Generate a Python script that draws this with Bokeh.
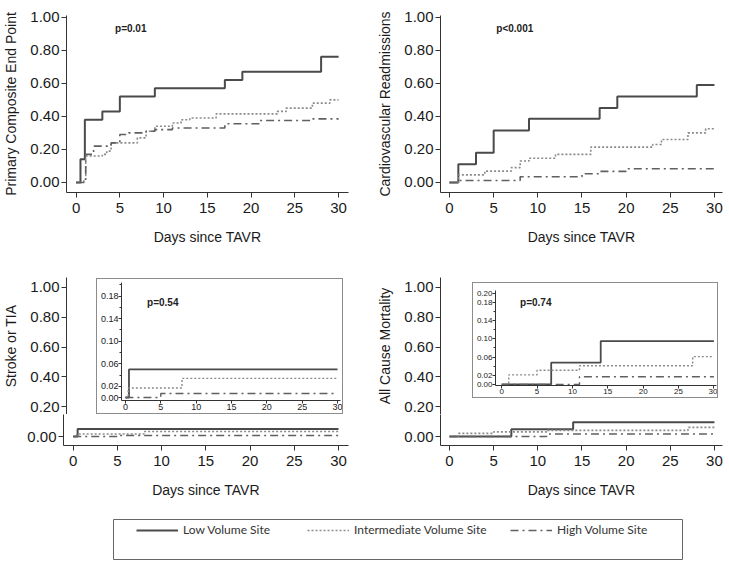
from bokeh.plotting import figure
from bokeh.layouts import row, column
from bokeh.models import (Range1d, FixedTicker, NumeralTickFormatter, Label,
                          Legend, LegendItem, Spacer)
from bokeh.embed import file_html
from bokeh.resources import INLINE

FONT = "Liberation Sans"

# ---------------- data ----------------
day_ticks = [0, 5, 10, 15, 20, 25, 30]
main_y_ticks = [0.0, 0.2, 0.4, 0.6, 0.8, 1.0]
inset3_y_ticks = [0.0, 0.02, 0.06, 0.10, 0.14, 0.18]
inset3_y_minor = [0.04, 0.08, 0.12, 0.16, 0.20]
inset4_y_ticks = [0.0, 0.02, 0.06, 0.10, 0.14, 0.18, 0.20]
inset4_y_minor = [0.04, 0.08, 0.12, 0.16]

series_labels = ["Low Volume Site", "Intermediate Volume Site", "High Volume Site"]

# Primary composite end point
comp_low_t = [0, 0.5, 1, 3, 5, 9, 17, 19, 28, 30]
comp_low_v = [0, 0.14, 0.38, 0.43, 0.52, 0.57, 0.62, 0.67, 0.76, 0.76]
comp_int_t = [0, 0.9, 1.1, 3, 3.5, 4, 7, 8, 9, 11, 12, 13, 16, 23, 24, 27, 29, 30]
comp_int_v = [0, 0.02, 0.16, 0.17, 0.19, 0.24, 0.27, 0.31, 0.34, 0.36, 0.38, 0.39, 0.415, 0.43, 0.45, 0.48, 0.50, 0.50]
comp_high_t = [0, 0.9, 1.1, 2, 4, 5, 6, 8, 9, 11, 17, 21, 27, 30]
comp_high_v = [0, 0.02, 0.17, 0.22, 0.24, 0.29, 0.30, 0.31, 0.32, 0.33, 0.355, 0.375, 0.385, 0.385]

# Cardiovascular readmissions
cv_low_t = [0, 1, 3, 5, 9, 17, 19, 28, 30]
cv_low_v = [0, 0.11, 0.18, 0.315, 0.385, 0.45, 0.52, 0.59, 0.59]
cv_int_t = [0, 1, 4, 7, 8, 9, 12, 16, 23, 24, 27, 29, 30]
cv_int_v = [0, 0.046, 0.069, 0.09, 0.13, 0.147, 0.17, 0.214, 0.23, 0.26, 0.30, 0.325, 0.325]
cv_high_t = [0, 1, 8, 15, 17, 20, 30]
cv_high_v = [0, 0.012, 0.035, 0.053, 0.067, 0.083, 0.083]

# Stroke or TIA
st_low_t = [0, 0.5, 30]
st_low_v = [0, 0.05, 0.05]
st_int_t = [0, 0.4, 8, 30]
st_int_v = [0, 0.017, 0.034, 0.034]
st_high_t = [0, 5, 30]
st_high_v = [0, 0.007, 0.007]

# All cause mortality
mo_low_t = [0, 7, 14, 30]
mo_low_v = [0, 0.048, 0.095, 0.095]
mo_int_t = [0, 1, 5, 11, 27, 30]
mo_int_v = [0, 0.021, 0.031, 0.041, 0.061, 0.061]
mo_high_t = [0, 11, 30]
mo_high_v = [0, 0.017, 0.017]

p_values = ["p=0.01", "p<0.001", "p=0.54", "p=0.74"]

# ---------------- styles ----------------
SERIES_STYLE = [
    dict(line_color="#4a4a4a", line_width=2.0, line_dash="solid"),
    dict(line_color="#8a8a8a", line_width=1.6, line_dash="2 2"),
    dict(line_color="#606060", line_width=1.6, line_dash="8 4 2 4"),
]
BOX_COLOR = "#8c8c8c"


def base_fig(w, h, xr, yr, mbl, mbr, mbt, mbb, **kw):
    p = figure(width=w, height=h, output_backend="svg", toolbar_location=None,
               x_range=Range1d(*xr), y_range=Range1d(*yr),
               min_border_left=mbl, min_border_right=mbr,
               min_border_top=mbt, min_border_bottom=mbb,
               background_fill_color="white", border_fill_color="white",
               outline_line_color=None, **kw)
    p.grid.visible = False
    return p


def style_axes(p, font_size, tick_out, minor_out, standoff):
    for ax in p.axis:
        ax.axis_line_color = "#333333"
        ax.axis_line_width = 1
        ax.major_tick_line_color = "#333333"
        ax.minor_tick_line_color = "#333333"
        ax.major_tick_out = tick_out
        ax.major_tick_in = 0
        ax.minor_tick_out = minor_out
        ax.minor_tick_in = 0
        ax.major_label_text_font = FONT
        ax.major_label_text_font_size = font_size
        ax.major_label_text_color = "#1a1a1a"
        ax.major_label_standoff = standoff
        ax.axis_label_text_font = FONT
        ax.axis_label_text_font_size = "14px"
        ax.axis_label_text_font_style = "normal"
        ax.axis_label_text_color = "#1a1a1a"


def add_curves(p, curves, scale=1.0):
    for (t, v), st in zip(curves, SERIES_STYLE):
        p.step(t, v, mode="after", line_color=st["line_color"],
               line_width=st["line_width"] * scale, line_dash=st["line_dash"])


def main_panel(w, h, xr, yr, mbl, mbr, mbt, mbb, ylabel, curves, xaxis=True):
    kw = {} if xaxis else {"x_axis_location": None}
    p = base_fig(w, h, xr, yr, mbl, mbr, mbt, mbb, **kw)
    if xaxis:
        p.xaxis.ticker = FixedTicker(ticks=day_ticks, minor_ticks=[])
        p.xaxis.axis_label = "Days since TAVR"
    p.yaxis.ticker = FixedTicker(ticks=main_y_ticks, minor_ticks=[])
    p.yaxis.formatter = NumeralTickFormatter(format="0.00")
    if ylabel:
        p.yaxis.axis_label = ylabel
    style_axes(p, "15px", 5, 0, 2)
    if xaxis:
        p.xaxis.major_label_standoff = 5
        p.xaxis.axis_label_standoff = 13
    p.yaxis.axis_label_standoff = 8
    if curves:
        add_curves(p, curves)
    return p


def p_label(p, x, y, text):
    p.add_layout(Label(x=x, y=y, text=text, text_font=FONT, text_font_size="10px",
                       text_font_style="bold", text_baseline="middle",
                       text_color="#222222"))


XR_L = (-1.097, 31.13)
XR_R = (-1.019, 30.91)
YR_T = (-0.0605, 1.0103)
YR_B_UP = (0.1477, 1.0671)
YR_B_LOW = (-0.0604, 0.1477)

comp_curves = [(comp_low_t, comp_low_v), (comp_int_t, comp_int_v), (comp_high_t, comp_high_v)]
cv_curves = [(cv_low_t, cv_low_v), (cv_int_t, cv_int_v), (cv_high_t, cv_high_v)]
st_curves = [(st_low_t, st_low_v), (st_int_t, st_int_v), (st_high_t, st_high_v)]
mo_curves = [(mo_low_t, mo_low_v), (mo_int_t, mo_int_v), (mo_high_t, mo_high_v)]

# ---- top row ----
tl = main_panel(360, 255, XR_L, YR_T, 63, 12, 15, 63, "Primary Composite End Point", comp_curves)
p_label(tl, 4.45, 0.93, p_values[0])
tr = main_panel(369, 255, XR_R, YR_T, 80, 7, 15, 63, "Cardiovascular Readmissions", cv_curves)
p_label(tr, 5.3, 0.93, p_values[1])

# ---- bottom panels: upper part (y axis only) + lower part (data + x axis) ----
bl_up = main_panel(96, 159, (0, 1), YR_B_UP, 63, 0, 22, 0, "Stroke or TIA", None, xaxis=False)
bl_low = main_panel(360, 91, XR_L, YR_B_LOW, 63, 12, 0, 60, None, st_curves)
br_up = main_panel(112, 159, (0, 1), YR_B_UP, 80, 0, 22, 0, "All Cause Mortality", None, xaxis=False)
br_low = main_panel(369, 91, XR_R, YR_B_LOW, 80, 7, 0, 60, None, mo_curves)


def inset(w, h, xr, yr, mbl, mbr, mbt, mbb, yt, ym, curves, fs):
    p = base_fig(w, h, xr, yr, mbl, mbr, mbt, mbb)
    p.xaxis.ticker = FixedTicker(ticks=day_ticks, minor_ticks=[])
    p.yaxis.ticker = FixedTicker(ticks=yt, minor_ticks=ym)
    p.yaxis.formatter = NumeralTickFormatter(format="0.00")
    style_axes(p, fs, 3, 2, 0)
    add_curves(p, curves, 0.9)
    return p


def boxed(p, w, h):
    """Surround a figure of size w x h with a 1px grey frame made of spacers."""
    line = {"background-color": BOX_COLOR}
    return column(
        Spacer(width=w + 2, height=1, styles=line),
        row(Spacer(width=1, height=h, styles=line), p, Spacer(width=1, height=h, styles=line)),
        Spacer(width=w + 2, height=1, styles=line),
    )


in3 = inset(245, 134, (-0.556, 30.42), (-0.0053, 0.2044), 20, 2, 3, 13,
            inset3_y_ticks, inset3_y_minor, st_curves, "9px")
p_label(in3, 3.06, 0.169, p_values[2])

in4 = inset(244, 114, (-0.875, 30.37), (-0.0022, 0.2057), 18, 1, 7, 12,
            inset4_y_ticks, inset4_y_minor, mo_curves, "8px")
p_label(in4, 2.6, 0.179, p_values[3])

bl_block = column(row(bl_up, column(Spacer(width=247, height=23), boxed(in3, 245, 134)),
                      Spacer(width=17, height=159)),
                  bl_low)
br_block = column(row(br_up, column(Spacer(width=246, height=27), boxed(in4, 244, 114),
                                    Spacer(width=246, height=16)),
                      Spacer(width=11, height=159)),
                  br_low)

# ---------------- legend ----------------
lg = figure(width=729, height=57, output_backend="svg", toolbar_location=None,
            x_range=Range1d(100, 101), y_range=Range1d(100, 101),
            x_axis_type=None, y_axis_type=None,
            min_border_left=113, min_border_right=47, min_border_top=14, min_border_bottom=3,
            background_fill_color="white", border_fill_color="white",
            outline_line_color="#666666", outline_line_width=1)
lg.grid.visible = False
legend_x = [23, 194, 397]
for lab, st, lx, (t, v) in zip(series_labels, SERIES_STYLE, legend_x, comp_curves):
    r = lg.line(x=t, y=v, line_color=st["line_color"], line_width=st["line_width"],
                line_dash=st["line_dash"])
    leg = Legend(items=[LegendItem(label=lab, renderers=[r])], location=(lx, 22),
                 orientation="horizontal", border_line_color=None,
                 background_fill_alpha=0, padding=0, margin=0,
                 glyph_width=42, glyph_height=14, label_height=14, label_standoff=5,
                 label_text_font="Lato", label_text_font_size="12px",
                 label_text_color="#333333")
    lg.add_layout(leg)

layout = column(row(tl, tr), row(bl_block, br_block), lg)

open("out.html", "w").write(file_html(layout, INLINE))
